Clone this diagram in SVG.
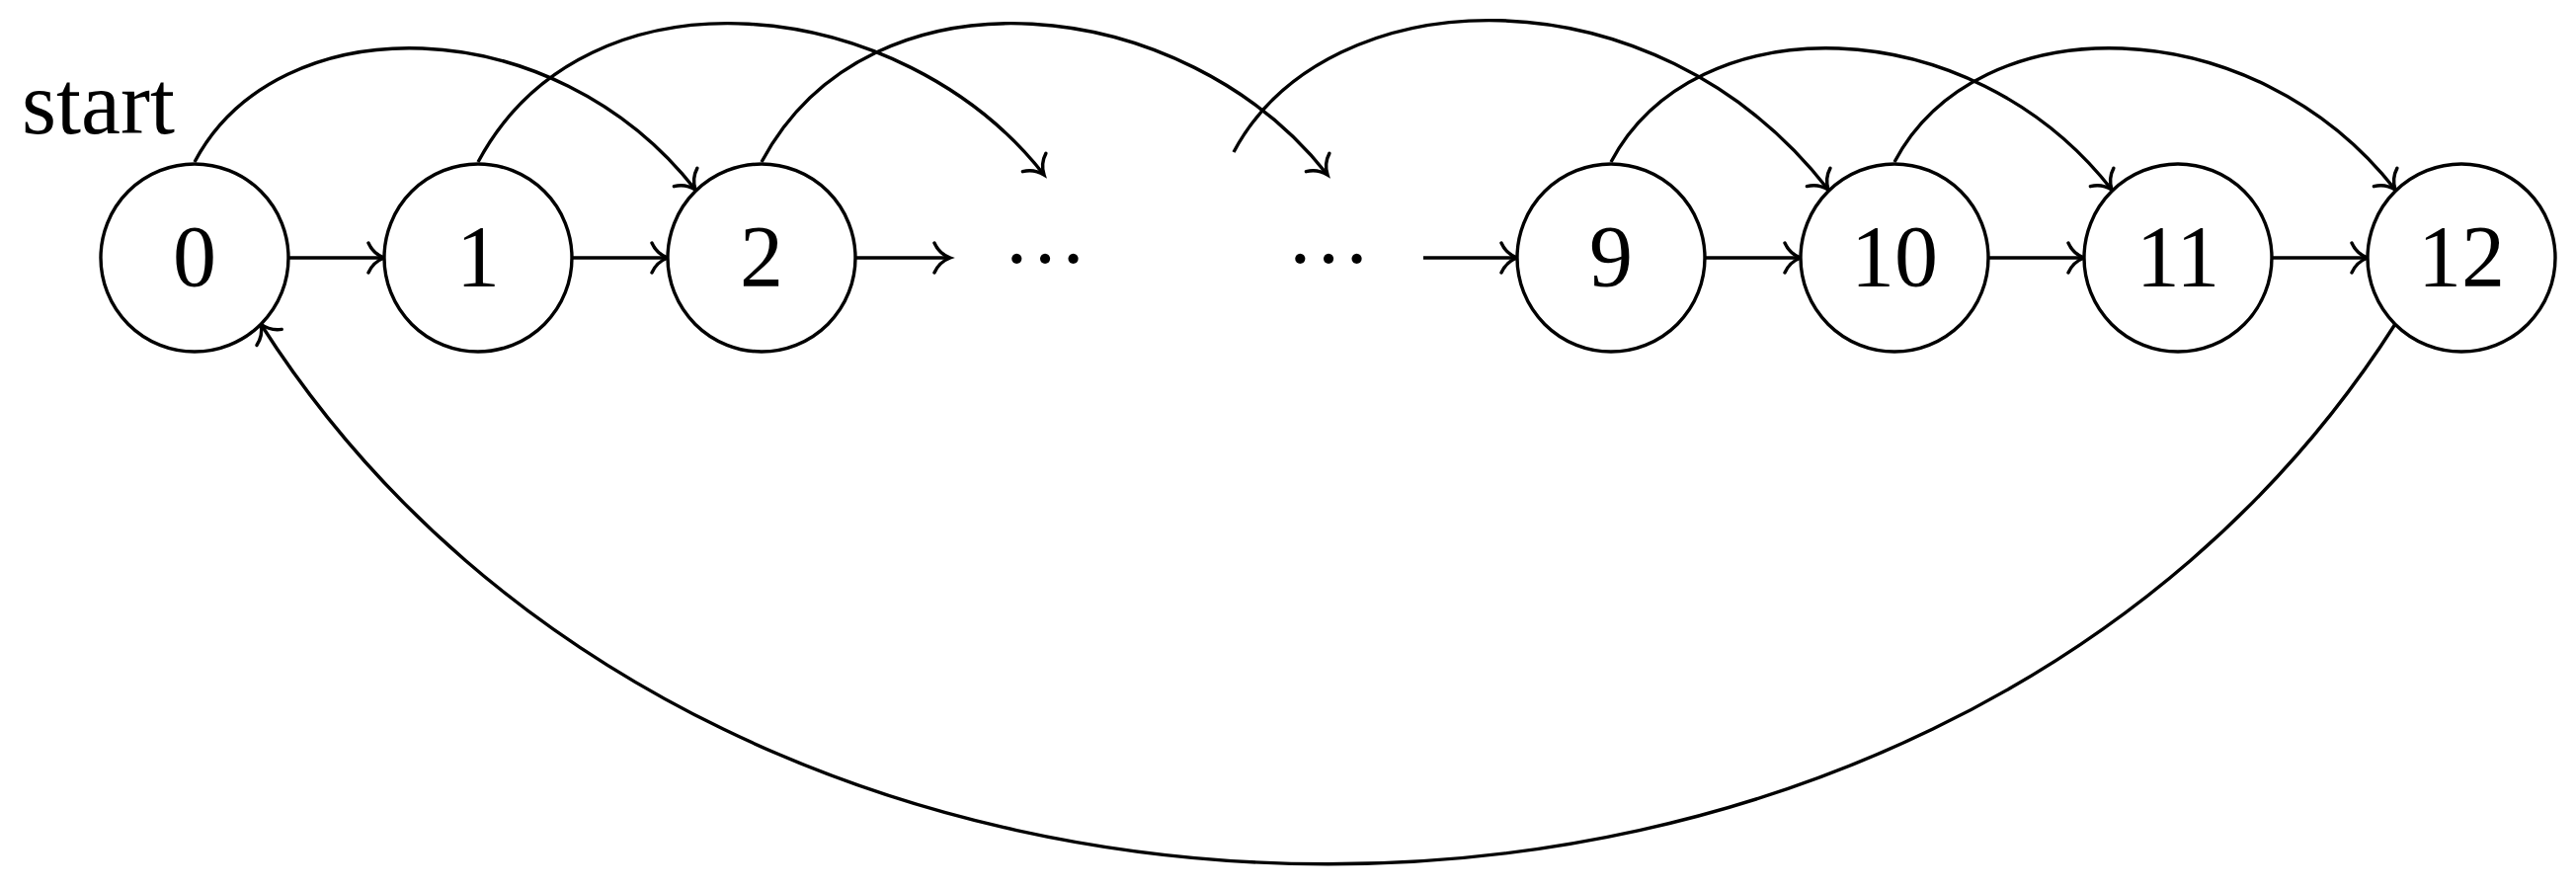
<svg xmlns="http://www.w3.org/2000/svg" width="2608" height="900" viewBox="0 0 2608 900">
<style>
.st{fill:#fff;stroke:#000;stroke-width:3.4}
.lb{font-family:"Liberation Serif","Times New Roman",serif;font-size:88px;fill:#000;text-anchor:middle}
.dt{font-family:"Liberation Serif","Times New Roman",serif;font-size:86px;fill:#000;text-anchor:middle}
.ed{fill:none;stroke:#000;stroke-width:3.4;marker-end:url(#ah)}
</style>
<defs>
<marker id="ah" markerUnits="userSpaceOnUse" markerWidth="40" markerHeight="40" viewBox="-20 -20 40 40" refX="0" refY="0" orient="auto" overflow="visible">
<path d="M -16,-15 C -12,-6 -4,-1.5 0,0 C -4,1.5 -12,6 -16,15" fill="none" stroke="#000" stroke-width="3.4" stroke-linecap="round"/>
</marker>
</defs>
<rect width="2608" height="900" fill="#fff"/>
<g id="connectors">
<path class="ed" d="M292,261 H389"/>
<path class="ed" d="M579,261 H676"/>
<path class="ed" d="M866,261 H962"/>
<path class="ed" d="M1441,261 H1536"/>
<path class="ed" d="M1726,261 H1823"/>
<path class="ed" d="M2013,261 H2110"/>
<path class="ed" d="M2300,261 H2397"/>
<path class="ed" d="M197,164 C281,5 559,7 704,192"/>
<path class="ed" d="M484,164 C594,-42 913,-7 1057,177"/>
<path class="ed" d="M771,164 C881,-42 1200,-7 1344,177"/>
<path class="ed" d="M1249,154 C1343,-23 1673,-37 1851,192"/>
<path class="ed" d="M1631,164 C1715,5 1993,7 2138,192"/>
<path class="ed" d="M1918,164 C2002,5 2280,7 2425,192"/>
<path class="ed" d="M2425,328 C1961,1057 728,1057 264,328"/>
</g>
<g id="start"><text x="22" y="135" class="lb" style="text-anchor:start;font-size:90px">start</text></g>
<g id="n0"><circle class="st" cx="197" cy="261" r="95"/><text class="lb" x="197" y="289">0</text></g>
<g id="n1"><circle class="st" cx="484" cy="261" r="95"/><text class="lb" x="484" y="289">1</text></g>
<g id="n2"><circle class="st" cx="771" cy="261" r="95"/><text class="lb" x="771" y="289">2</text></g>
<g id="d1"><text class="dt" x="1058" y="291">···</text></g>
<g id="d2"><text class="dt" x="1345" y="291">···</text></g>
<g id="n9"><circle class="st" cx="1631" cy="261" r="95"/><text class="lb" x="1631" y="289">9</text></g>
<g id="n10"><circle class="st" cx="1918" cy="261" r="95"/><text class="lb" x="1918" y="289">10</text></g>
<g id="n11"><circle class="st" cx="2205" cy="261" r="95"/><text class="lb" x="2205" y="289">11</text></g>
<g id="n12"><circle class="st" cx="2492" cy="261" r="95"/><text class="lb" x="2492" y="289">12</text></g>
</svg>
